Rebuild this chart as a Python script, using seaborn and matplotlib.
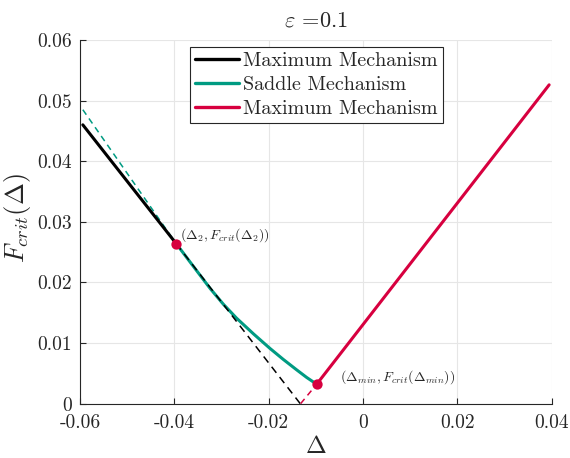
import matplotlib
matplotlib.use("Agg")
import matplotlib.pyplot as plt
import seaborn as sns
import pandas as pd
from matplotlib.lines import Line2D

# ---------------- data ----------------
max1_x = [-0.0594, -0.0396]
max1_y = [0.0460, 0.0264]
max1_dash_x = [-0.0396, -0.0133]
max1_dash_y = [0.0264, 0.0]

saddle_dash_x = [-0.0594, -0.0396]
saddle_dash_y = [0.0485, 0.0264]
saddle_x = [-0.0396, -0.0363, -0.0324, -0.0296, -0.0268, -0.0232,
            -0.0197, -0.0169, -0.0141, -0.0119, -0.0098]
saddle_y = [0.0264, 0.0230, 0.0190, 0.0164, 0.0141, 0.0115,
            0.0091, 0.0073, 0.0056, 0.0043, 0.0032]

max2_x = [-0.0098, 0.0395]
max2_y = [0.0032, 0.0526]
max2_dash_x = [-0.0132, -0.0098]
max2_dash_y = [0.0, 0.0032]

pts_x = [-0.0396, -0.0098]
pts_y = [0.0264, 0.0032]
pt_labels = [r"$(\Delta_2, F_{crit}(\Delta_2))$",
             r"$(\Delta_{min}, F_{crit}(\Delta_{min}))$"]

legend_labels = ["Maximum Mechanism", "Saddle Mechanism", "Maximum Mechanism"]
x_ticks = [-0.06, -0.04, -0.02, 0, 0.02, 0.04]
x_ticklabels = ["-0.06", "-0.04", "-0.02", "0", "0.02", "0.04"]
y_ticks = [0, 0.01, 0.02, 0.03, 0.04, 0.05, 0.06]
y_ticklabels = ["0", "0.01", "0.02", "0.03", "0.04", "0.05", "0.06"]

BLACK = "#000000"
GREEN = "#009B82"
RED = "#D7003F"

# ---------------- style ----------------
sns.set_theme(style="whitegrid")
plt.rcParams.update({
    "font.family": ["cmr10"],
    "mathtext.fontset": "cm",
    "axes.unicode_minus": False,
    "axes.formatter.use_mathtext": True,
    "grid.color": "#e6e6e6",
    "grid.linewidth": 0.8,
    "axes.edgecolor": "#262626",
    "axes.linewidth": 0.8,
})

fig = plt.figure(figsize=(5.70, 4.58), dpi=100)
ax = fig.add_axes([80 / 570, 1 - 403.6 / 458, 471.5 / 570, 363.6 / 458])

def seg(x, y, color, ls, lw):
    df = pd.DataFrame({"x": x, "y": y})
    sns.lineplot(data=df, x="x", y="y", color=color, linestyle=ls,
                 linewidth=lw, ax=ax, sort=False, estimator=None)

seg(saddle_dash_x, saddle_dash_y, GREEN, (0, (4, 3)), 1.1)
seg(max1_x, max1_y, BLACK, "-", 2.2)
seg(saddle_x, saddle_y, GREEN, "-", 2.2)
seg(max1_dash_x, max1_dash_y, BLACK, (0, (5, 3.5)), 1.1)
seg(max2_x, max2_y, RED, "-", 2.2)
seg(max2_dash_x, max2_dash_y, RED, (0, (4, 3)), 1.1)

sns.scatterplot(x=pts_x, y=pts_y, color=RED, s=55, edgecolor=RED,
                linewidth=0, ax=ax, zorder=5)

ax.text(-0.0388, 0.0278, pt_labels[0], fontsize=10, ha="left", va="center")
ax.text(-0.00486, 0.0044, pt_labels[1], fontsize=10, ha="left", va="center")

ax.set_xlim(-0.06, 0.04)
ax.set_ylim(0, 0.06)
ax.set_xticks(x_ticks)
ax.set_xticklabels(x_ticklabels)
ax.set_yticks(y_ticks)
ax.set_yticklabels(y_ticklabels)
ax.tick_params(axis="both", which="both", direction="in", length=4,
               width=0.8, color="#262626", labelsize=14, pad=6,
               labelcolor="#262626", left=True, bottom=True)
ax.tick_params(axis="x", pad=7.5)
for s in ["top", "right"]:
    ax.spines[s].set_visible(False)

ax.set_xlabel(r"$\Delta$", fontsize=18, labelpad=3)
ax.set_ylabel(r"$F_{crit}(\Delta)$", fontsize=19)
ax.yaxis.set_label_coords(-0.1, 0.51)
ax.set_title(r"$\varepsilon$ =0.1", fontsize=16, pad=10)

handles = [Line2D([0], [0], color=c, lw=2.4) for c in (BLACK, GREEN, RED)]
leg = fig.legend(handles, legend_labels, loc="upper left",
                 bbox_to_anchor=(190 / 570, 1 - 47 / 458), fontsize=14.5,
                 frameon=True, fancybox=False, framealpha=1,
                 edgecolor="#262626", borderpad=0.25, labelspacing=0.28,
                 handlelength=2.2, handletextpad=0.2, borderaxespad=0)
leg.get_frame().set_linewidth(0.8)

fig.savefig("out.png", dpi=100)
